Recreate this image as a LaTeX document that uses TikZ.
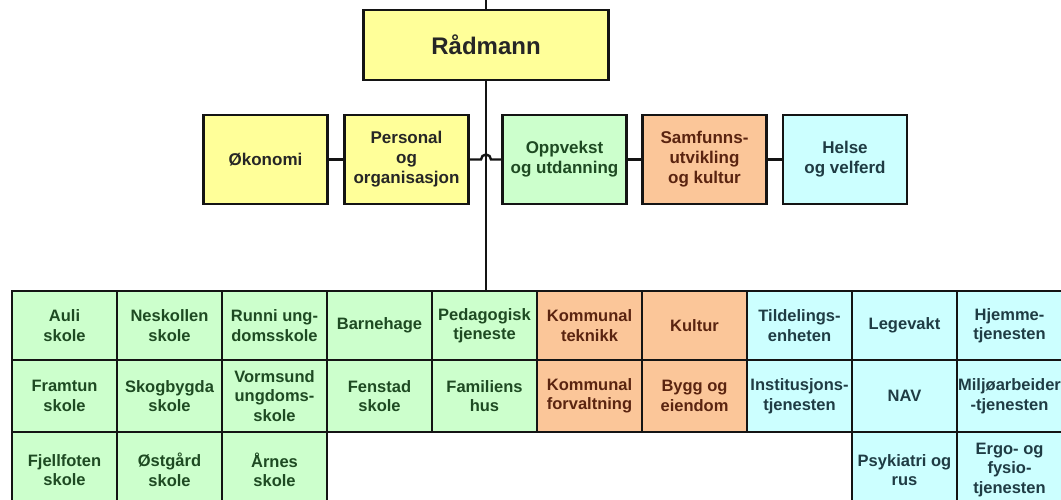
\documentclass[tikz,border=0pt]{standalone}
\usepackage{fontspec}
\setmainfont{Liberation Sans}
\usepackage{tikz}
\usetikzlibrary{positioning}

\definecolor{boxyellow}{HTML}{FFFF99}
\definecolor{boxgreen}{HTML}{CCFFCC}
\definecolor{boxorange}{HTML}{FBC699}
\definecolor{boxblue}{HTML}{CCFFFF}
\definecolor{txtgreen}{HTML}{1E4A22}
\definecolor{txtbrown}{HTML}{5A2410}
\definecolor{txtblue}{HTML}{1F3C44}
\definecolor{txtdark}{HTML}{262626}
\definecolor{linedark}{HTML}{141414}

\tikzset{
  box/.style={rectangle,draw=linedark,line width=2.6pt,align=center,inner sep=1pt,
    font=\bfseries\fontsize{16.5}{19.5}\selectfont},
  chief/.style={box,fill=boxyellow,text=txtdark,minimum width=245pt,minimum height=70pt,
    font=\bfseries\fontsize{24}{28}\selectfont},
  staff/.style={box,minimum width=124pt,minimum height=89pt,
    font=\bfseries\fontsize{17}{20}\selectfont},
  cell/.style={box,minimum width=105pt},
  yel/.style={fill=boxyellow,text=txtdark},
  grn/.style={fill=boxgreen,text=txtgreen},
  org/.style={fill=boxorange,text=txtbrown},
  blu/.style={fill=boxblue,text=txtblue},
  rowa/.style={minimum height=69pt},
  rowb/.style={minimum height=72pt},
  rowc/.style={minimum height=76pt},
  link/.style={draw=linedark,line width=2.4pt}
}

\begin{document}
\begin{tikzpicture}[x=1pt,y=-1pt]
  \useasboundingbox (0,0) rectangle (1061,499);

  % top and staff row
  \node[chief] (radmann) at (486,45) {Rådmann};
  \node[staff,yel] (okonomi) at (265.5,159.5) {Økonomi};
  \node[staff,yel] (personal) at (406.5,159.5) {Personal\\og\\organisasjon};
  \node[staff,grn] (oppvekst) at (564.5,159.5) {Oppvekst\\og utdanning};
  \node[staff,org] (samfunn) at (704.5,159.5) {Samfunns-\\utvikling\\og kultur};
  \node[staff,blu] (helse) at (845,159.5) {Helse\\og velferd};

  % grid, first row
  \node[cell,rowa,grn] (auli) at (64.5,325.5) {Auli\\skole};
  \node[cell,rowa,grn] (neskollen) at (169.5,325.5) {Neskollen\\skole};
  \node[cell,rowa,grn] (runni) at (274.5,325.5) {Runni ung-\\domsskole};
  \node[cell,rowa,grn] (barnehage) at (379.5,325.5) {Barnehage};
  \node[cell,rowa,grn] (pedagogisk) at (484.5,325.5) {Pedagogisk\\tjeneste};
  \node[cell,rowa,org] (teknikk) at (589.5,325.5) {Kommunal\\teknikk};
  \node[cell,rowa,org] (kultur) at (694.5,325.5) {Kultur};
  \node[cell,rowa,blu] (tildeling) at (799.5,325.5) {Tildelings-\\enheten};
  \node[cell,rowa,blu] (legevakt) at (904.5,325.5) {Legevakt};
  \node[cell,rowa,blu] (hjemme) at (1009.5,325.5) {Hjemme-\\tjenesten};

  % second row
  \node[cell,rowb,grn] (framtun) at (64.5,396) {Framtun\\skole};
  \node[cell,rowb,grn] (skogbygda) at (169.5,396) {Skogbygda\\skole};
  \node[cell,rowb,grn] (vormsund) at (274.5,396) {Vormsund\\ungdoms-\\skole};
  \node[cell,rowb,grn] (fenstad) at (379.5,396) {Fenstad\\skole};
  \node[cell,rowb,grn] (familiens) at (484.5,396) {Familiens\\hus};
  \node[cell,rowb,org] (forvaltning) at (589.5,396) {Kommunal\\forvaltning};
  \node[cell,rowb,org] (bygg) at (694.5,396) {Bygg og\\eiendom};
  \node[cell,rowb,blu] (institusjon) at (799.5,396) {Institusjons-\\tjenesten};
  \node[cell,rowb,blu] (nav) at (904.5,396) {NAV};
  \node[cell,rowb,blu] (miljo) at (1009.5,396) {Miljøarbeider\\-tjenesten};

  % third row
  \node[cell,rowc,grn] (fjellfoten) at (64.5,470) {Fjellfoten\\skole};
  \node[cell,rowc,grn] (ostgard) at (169.5,470) {Østgård\\skole};
  \node[cell,rowc,grn] (arnes) at (274.5,470) {Årnes\\skole};
  \node[cell,rowc,blu] (psykiatri) at (904.5,470) {Psykiatri og\\rus};
  \node[cell,rowc,blu] (ergo) at (1009.5,470) {Ergo- og\\fysio-\\tjenesten};

  % connectors
  \coordinate (topend) at (486,0);
  \coordinate (hop) at (486,159.5);
  \draw[link] (topend) -- (radmann.north);
  \draw[link] (radmann.south) -- (radmann.south |- pedagogisk.north);
  \draw[link] (okonomi) -- (personal);
  \draw[link] (personal.east) -- ([xshift=-5pt]hop) arc[start angle=180,end angle=0,radius=5pt] -- (oppvekst.west);
  \draw[link] (oppvekst) -- (samfunn);
  \draw[link] (samfunn) -- (helse);
\end{tikzpicture}
\end{document}
